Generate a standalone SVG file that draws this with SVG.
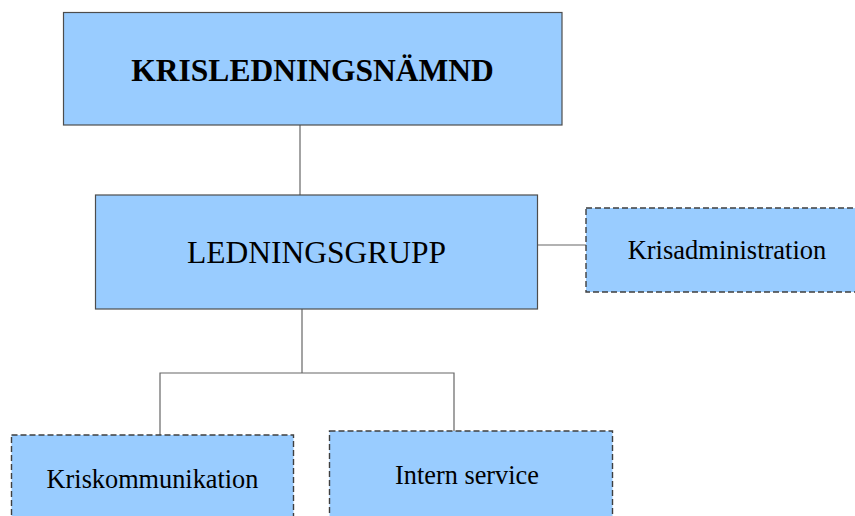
<svg xmlns="http://www.w3.org/2000/svg" width="855" height="516" viewBox="0 0 855 516">
  <style>
    .box { fill: #99ccff; stroke: #4d4d4d; stroke-width: 1.2; }
    .dashed { stroke: #3f3f3f; stroke-width: 1.4; stroke-dasharray: 6 3; }
    .lbl { font-family: "Liberation Serif", "Times New Roman", serif; fill: #000; text-anchor: middle; }
    .conn { fill: none; stroke: #666; stroke-width: 1.2; }
  </style>
  <rect width="855" height="516" fill="#fff"/>

  <g id="connectors">
    <line class="conn" x1="300" y1="125" x2="300" y2="195"/>
    <line class="conn" x1="538" y1="245" x2="586" y2="245"/>
    <polyline class="conn" points="302,309 302,373"/>
    <polyline class="conn" points="160,435 160,373 454,373 454,431"/>
  </g>

  <g id="krisledningsnamnd">
    <rect class="box" x="63.5" y="12.5" width="498.5" height="112.5"/>
    <text class="lbl" x="312.5" y="81" font-size="31.5" font-weight="bold">KRISLEDNINGSNÄMND</text>
  </g>

  <g id="ledningsgrupp">
    <rect class="box" x="95.5" y="195" width="442" height="114"/>
    <text class="lbl" x="316.5" y="263" font-size="31.5">LEDNINGSGRUPP</text>
  </g>

  <g id="krisadministration">
    <rect class="box dashed" x="586" y="208" width="284" height="84"/>
    <text class="lbl" x="727" y="259" font-size="26.5">Krisadministration</text>
  </g>

  <g id="kriskommunikation">
    <rect class="box dashed" x="11.5" y="435" width="282" height="100"/>
    <text class="lbl" x="152.5" y="488" font-size="26.3">Kriskommunikation</text>
  </g>

  <g id="intern-service">
    <rect class="box dashed" x="329.5" y="431" width="283" height="100"/>
    <text class="lbl" x="467" y="484" font-size="26.3">Intern service</text>
  </g>
</svg>
